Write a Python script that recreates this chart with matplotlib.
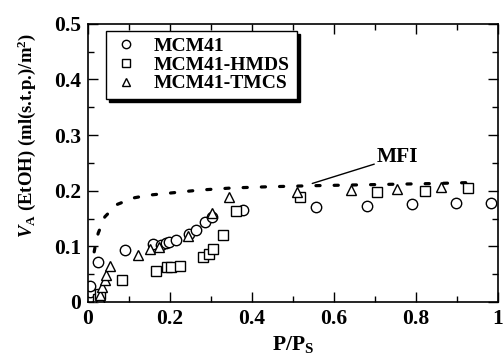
import matplotlib
matplotlib.use('Agg')
import matplotlib.pyplot as plt
from matplotlib.ticker import MultipleLocator

plt.rcParams['font.family'] = 'Liberation Serif'
plt.rcParams['font.weight'] = 'bold'
plt.rcParams['mathtext.fontset'] = 'custom'
plt.rcParams['mathtext.rm'] = 'Liberation Serif:bold'
plt.rcParams['mathtext.bf'] = 'Liberation Serif:bold'
plt.rcParams['mathtext.it'] = 'Liberation Serif:italic:bold'

# MCM41 (circles)
mcm_x = [0.004, 0.004, 0.004, 0.004, 0.025, 0.09, 0.159, 0.178, 0.19, 0.198, 0.214,
         0.247, 0.263, 0.286, 0.302, 0.379, 0.556, 0.681, 0.79, 0.897, 0.983]
mcm_y = [0.0, 0.009, 0.018, 0.028, 0.072, 0.093, 0.104, 0.103, 0.106, 0.108, 0.112,
         0.122, 0.13, 0.144, 0.153, 0.165, 0.170, 0.173, 0.176, 0.177, 0.178]

# MCM41-HMDS (squares)
hmds_x = [0.025, 0.028, 0.082, 0.165, 0.193, 0.203, 0.225, 0.28, 0.294, 0.305,
          0.33, 0.362, 0.517, 0.705, 0.821, 0.926]
hmds_y = [0.005, 0.015, 0.040, 0.056, 0.062, 0.063, 0.065, 0.080, 0.086, 0.095,
          0.12, 0.164, 0.189, 0.197, 0.200, 0.204]

# MCM41-TMCS (triangles)
tmcs_x = [0.029, 0.03, 0.035, 0.041, 0.045, 0.054, 0.121, 0.152, 0.173, 0.243,
          0.302, 0.343, 0.51, 0.642, 0.753, 0.86]
tmcs_y = [0.005, 0.013, 0.027, 0.040, 0.048, 0.064, 0.085, 0.096, 0.099, 0.119,
          0.160, 0.188, 0.198, 0.201, 0.203, 0.206]

# MFI curve
mfi_x = [0.015, 0.02, 0.025, 0.041, 0.07, 0.111, 0.148, 0.19, 0.27, 0.353,
         0.436, 0.55, 0.7, 0.85, 0.95]
mfi_y = [0.09, 0.11, 0.124, 0.153, 0.175, 0.187, 0.192, 0.195, 0.201, 0.205,
         0.207, 0.209, 0.211, 0.213, 0.215]

fig = plt.figure(figsize=(5.03, 3.62), dpi=100)
ax = fig.add_axes([0.175, 0.166, 0.815, 0.768])

mk = dict(linestyle='none', markerfacecolor='white', markeredgecolor='black',
          markeredgewidth=1.0, markersize=7.5)
ax.plot(mcm_x, mcm_y, marker='o', label='MCM41', **mk)
ax.plot(hmds_x, hmds_y, marker='s', label='MCM41-HMDS', **mk)
ax.plot(tmcs_x, tmcs_y, marker='^', label='MCM41-TMCS', **mk)
ax.plot(mfi_x, mfi_y, color='black', linewidth=2.3, linestyle=(0, (1.3, 4.4)),
        dash_capstyle='round', zorder=1)

ax.annotate('MFI', xy=(0.547, 0.213), xytext=(0.705, 0.252), fontsize=15.5,
            fontweight='bold',
            arrowprops=dict(arrowstyle='-', color='black', lw=1.0, shrinkA=0, shrinkB=0))

ax.set_xlim(0, 1.0)
ax.set_ylim(0, 0.5)
ax.xaxis.set_minor_locator(MultipleLocator(0.1))
ax.yaxis.set_minor_locator(MultipleLocator(0.05))
ax.set_xticks([0, 0.2, 0.4, 0.6, 0.8, 1.0])
ax.set_xticklabels(['0', '0.2', '0.4', '0.6', '0.8', '1'])
ax.set_yticks([0, 0.1, 0.2, 0.3, 0.4, 0.5])
ax.set_yticklabels(['0', '0.1', '0.2', '0.3', '0.4', '0.5'])
ax.tick_params(which='both', direction='in', top=True, right=True, labelsize=15.5)
ax.tick_params(which='major', length=7, width=1, pad=5)
ax.tick_params(which='minor', length=4, width=1)
for s in ax.spines.values():
    s.set_linewidth(1.2)

ax.set_xlabel('P/P$_\\mathregular{S}$', fontsize=15.5, fontweight='bold', labelpad=4)
ax.set_ylabel('$V_\\mathregular{A}$ (EtOH) (ml(s.t.p.)/m$^\\mathregular{2}$)',
              fontsize=13.5, fontweight='bold')
ax.yaxis.set_label_coords(-0.122, 0.6)

leg = ax.legend(loc='upper left', bbox_to_anchor=(0.045, 0.975), borderaxespad=0,
                fontsize=14, frameon=True, fancybox=False, handletextpad=0.8,
                labelspacing=0.05, borderpad=0.35, handlelength=1.3,
                shadow={'ox': 2, 'oy': -2, 'color': 'black', 'alpha': 1})
leg.get_frame().set_edgecolor('black')
leg.get_frame().set_linewidth(1.0)
for h in leg.legend_handles:
    h.set_markersize(6)

fig.savefig('out.png', dpi=100)
